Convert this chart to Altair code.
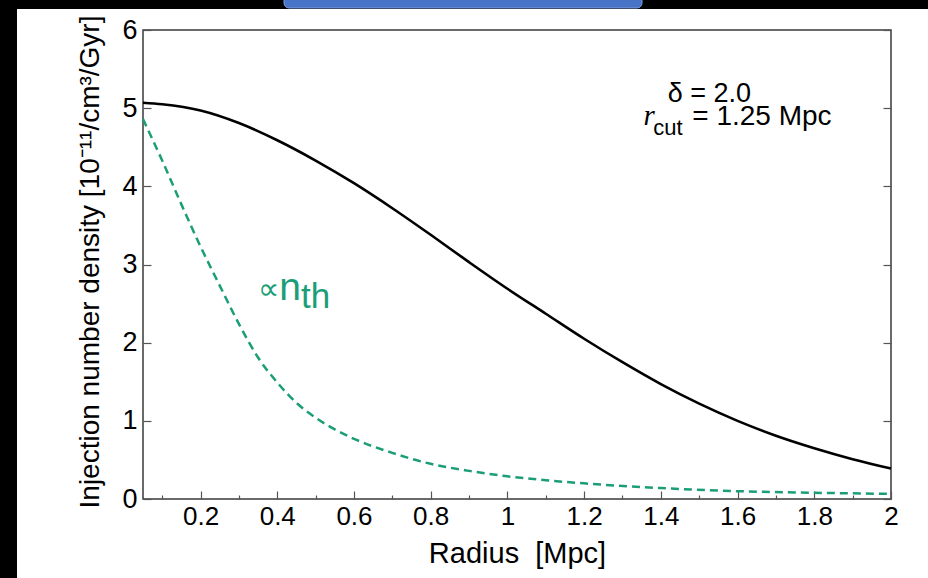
import altair as alt
import pandas as pd

# ---- data ----
radius_black = [0.05, 0.1, 0.2, 0.3, 0.4, 0.5, 0.6, 0.7, 0.8, 0.9, 1.0,
                1.1, 1.2, 1.3, 1.4, 1.5, 1.6, 1.7, 1.8, 1.9, 2.0]
density_black = [5.07, 5.05, 4.97, 4.81, 4.59, 4.33, 4.04, 3.72, 3.38, 3.03, 2.69,
                 2.37, 2.05, 1.75, 1.47, 1.22, 1.00, 0.81, 0.65, 0.51, 0.39]

radius_green = [0.05, 0.1, 0.15, 0.2, 0.25, 0.3, 0.35, 0.4, 0.45, 0.5, 0.55, 0.6,
                0.7, 0.8, 0.9, 1.0, 1.1, 1.2, 1.4, 1.6, 1.8, 2.0]
density_green = [4.86, 4.33, 3.77, 3.23, 2.73, 2.24, 1.81, 1.49, 1.23, 1.04, 0.89, 0.77,
                 0.59, 0.45, 0.36, 0.29, 0.24, 0.20, 0.14, 0.10, 0.08, 0.065]

x_major_ticks = [0.2, 0.4, 0.6, 0.8, 1.0, 1.2, 1.4, 1.6, 1.8, 2.0]
x_minor_ticks = [0.1, 0.3, 0.5, 0.7, 0.9, 1.1, 1.3, 1.5, 1.7, 1.9]
y_ticks = [0, 1, 2, 3, 4, 5, 6]

x_title = "Radius\u00a0 [Mpc]"
y_title = "Injection number density [10\u207b\u00b9\u00b9/cm\u00b3/Gyr]"
delta_text = "\u03b4 = 2.0"
rcut_symbol = "r"
rcut_sub = "cut"
rcut_value = "= 1.25 Mpc"
prop_symbol = "\u221d"
nth_main = "n"
nth_sub = "th"

# ---- layout ----
W, H = 748, 469
PAD_L, PAD_T, PAD_R, PAD_B = 143, 30, 37, 79
FONT = "Liberation Sans, Arial, Helvetica, sans-serif"
GREEN = "#1b9e77"
TICK = "#555555"

xs = alt.Scale(domain=[0.05, 2.0], nice=False, zero=False)
ys = alt.Scale(domain=[0, 6], nice=False, zero=False)

black_df = pd.DataFrame({"r": radius_black, "n": density_black})
green_df = pd.DataFrame({"r": radius_green, "n": density_green})

main = alt.Chart(black_df).mark_line(
    color="black", strokeWidth=2.6, interpolate="monotone"
).encode(
    x=alt.X("r:Q", scale=xs, axis=alt.Axis(
        orient="bottom", values=x_major_ticks, labelExpr="format(datum.value, '~g')",
        ticks=False, domain=False, grid=False, labelFlush=False, labelOverlap=False,
        labelFont=FONT, labelFontSize=26, labelColor="black", labelPadding=4,
        title=x_title, titleFont=FONT, titleFontSize=29, titleFontWeight="normal",
        titleColor="black", titleX=W / 2, titleY=54, titleBaseline="middle",
        titleAlign="center")),
    y=alt.Y("n:Q", scale=ys, axis=alt.Axis(
        orient="left", values=y_ticks, ticks=False, domain=False, grid=False,
        labelFlush=False, labelOverlap=False, labelFont=FONT, labelFontSize=27,
        labelColor="black", labelPadding=6,
        title=y_title, titleFont=FONT, titleFontSize=28, titleFontWeight="normal",
        titleColor="black", titleAngle=270, titleX=-53, titleY=H / 2 - 3,
        titleBaseline="middle", titleAlign="center")),
)

green = alt.Chart(green_df).mark_line(
    color=GREEN, strokeWidth=2.5, strokeDash=[8, 5], interpolate="monotone"
).encode(
    x=alt.X("r:Q", scale=xs, axis=None),
    y=alt.Y("n:Q", scale=ys, axis=None),
)

# inward ticks: bottom (major) + left
ticks_a = alt.Chart(black_df).mark_line(opacity=0).encode(
    x=alt.X("r:Q", scale=xs, axis=alt.Axis(
        orient="top", offset=-H, values=x_major_ticks, labels=False, domain=False,
        grid=False, tickSize=8, tickColor=TICK, tickWidth=1.2, title=None)),
    y=alt.Y("n:Q", scale=ys, axis=alt.Axis(
        orient="right", offset=-W, values=y_ticks, labels=False, domain=False,
        grid=False, tickSize=8, tickColor=TICK, tickWidth=1.2, title=None)),
)

# inward ticks: bottom (minor) + right
ticks_b = alt.Chart(black_df).mark_line(opacity=0).encode(
    x=alt.X("r:Q", scale=xs, axis=alt.Axis(
        orient="top", offset=-H, values=x_minor_ticks, labels=False, domain=False,
        grid=False, tickSize=4, tickColor=TICK, tickWidth=1.2, title=None)),
    y=alt.Y("n:Q", scale=ys, axis=alt.Axis(
        orient="left", offset=-W, values=y_ticks, labels=False, domain=False,
        grid=False, tickSize=8, tickColor=TICK, tickWidth=1.2, title=None)),
)


def label(text, x, y, size, color="black", font=FONT, style="normal"):
    df = pd.DataFrame({"x": [x], "y": [y], "t": [text]})
    return alt.Chart(df).mark_text(
        align="left", baseline="alphabetic", fontSize=size, font=font,
        fontStyle=style, color=color
    ).encode(
        x=alt.X("x:Q", scale=xs, axis=None),
        y=alt.Y("y:Q", scale=ys, axis=None),
        text="t:N",
    )


texts = [
    label(delta_text, 1.418, 5.08, 27),
    label(rcut_symbol, 1.355, 4.785, 29, font="Liberation Serif, Times New Roman, serif", style="italic"),
    label(rcut_sub, 1.38, 4.655, 22),
    label(rcut_value, 1.482, 4.785, 28),
    label(prop_symbol, 0.35, 2.56, 30, color=GREEN, font="DejaVu Sans, sans-serif"),
    label(nth_main, 0.405, 2.55, 39, color=GREEN),
    label(nth_sub, 0.462, 2.44, 35, color=GREEN),
]

# screenshot frame decorations (outside plot, pixel placed)
deco_df = pd.DataFrame({"k": [0]})
left_bar = alt.Chart(deco_df).mark_rect(color="black").encode(
    x=alt.value(-PAD_L), x2=alt.value(-PAD_L + 17),
    y=alt.value(-PAD_T), y2=alt.value(H + PAD_B))
top_bar = alt.Chart(deco_df).mark_rect(color="black").encode(
    x=alt.value(-PAD_L), x2=alt.value(W + PAD_R),
    y=alt.value(-PAD_T), y2=alt.value(-PAD_T + 9))
blue_tab = alt.Chart(deco_df).mark_rect(
    color="#4874c8", cornerRadiusBottomLeft=8, cornerRadiusBottomRight=8,
    stroke="#7b9be0", strokeWidth=1
).encode(
    x=alt.value(284 - PAD_L), x2=alt.value(642 - PAD_L),
    y=alt.value(-PAD_T - 2), y2=alt.value(-PAD_T + 8))

chart = alt.layer(
    main, green, ticks_a, ticks_b, *texts, left_bar, top_bar, blue_tab
).resolve_axis(
    x="independent", y="independent"
).properties(
    width=W, height=H,
    autosize=alt.AutoSizeParams(type="none"),
    padding={"left": PAD_L, "top": PAD_T, "right": PAD_R, "bottom": PAD_B},
    background="white",
).configure_view(
    stroke="#3a3a3a", strokeWidth=1.5
)

chart.save("out.html", embed_options={"renderer": "svg", "actions": False})
